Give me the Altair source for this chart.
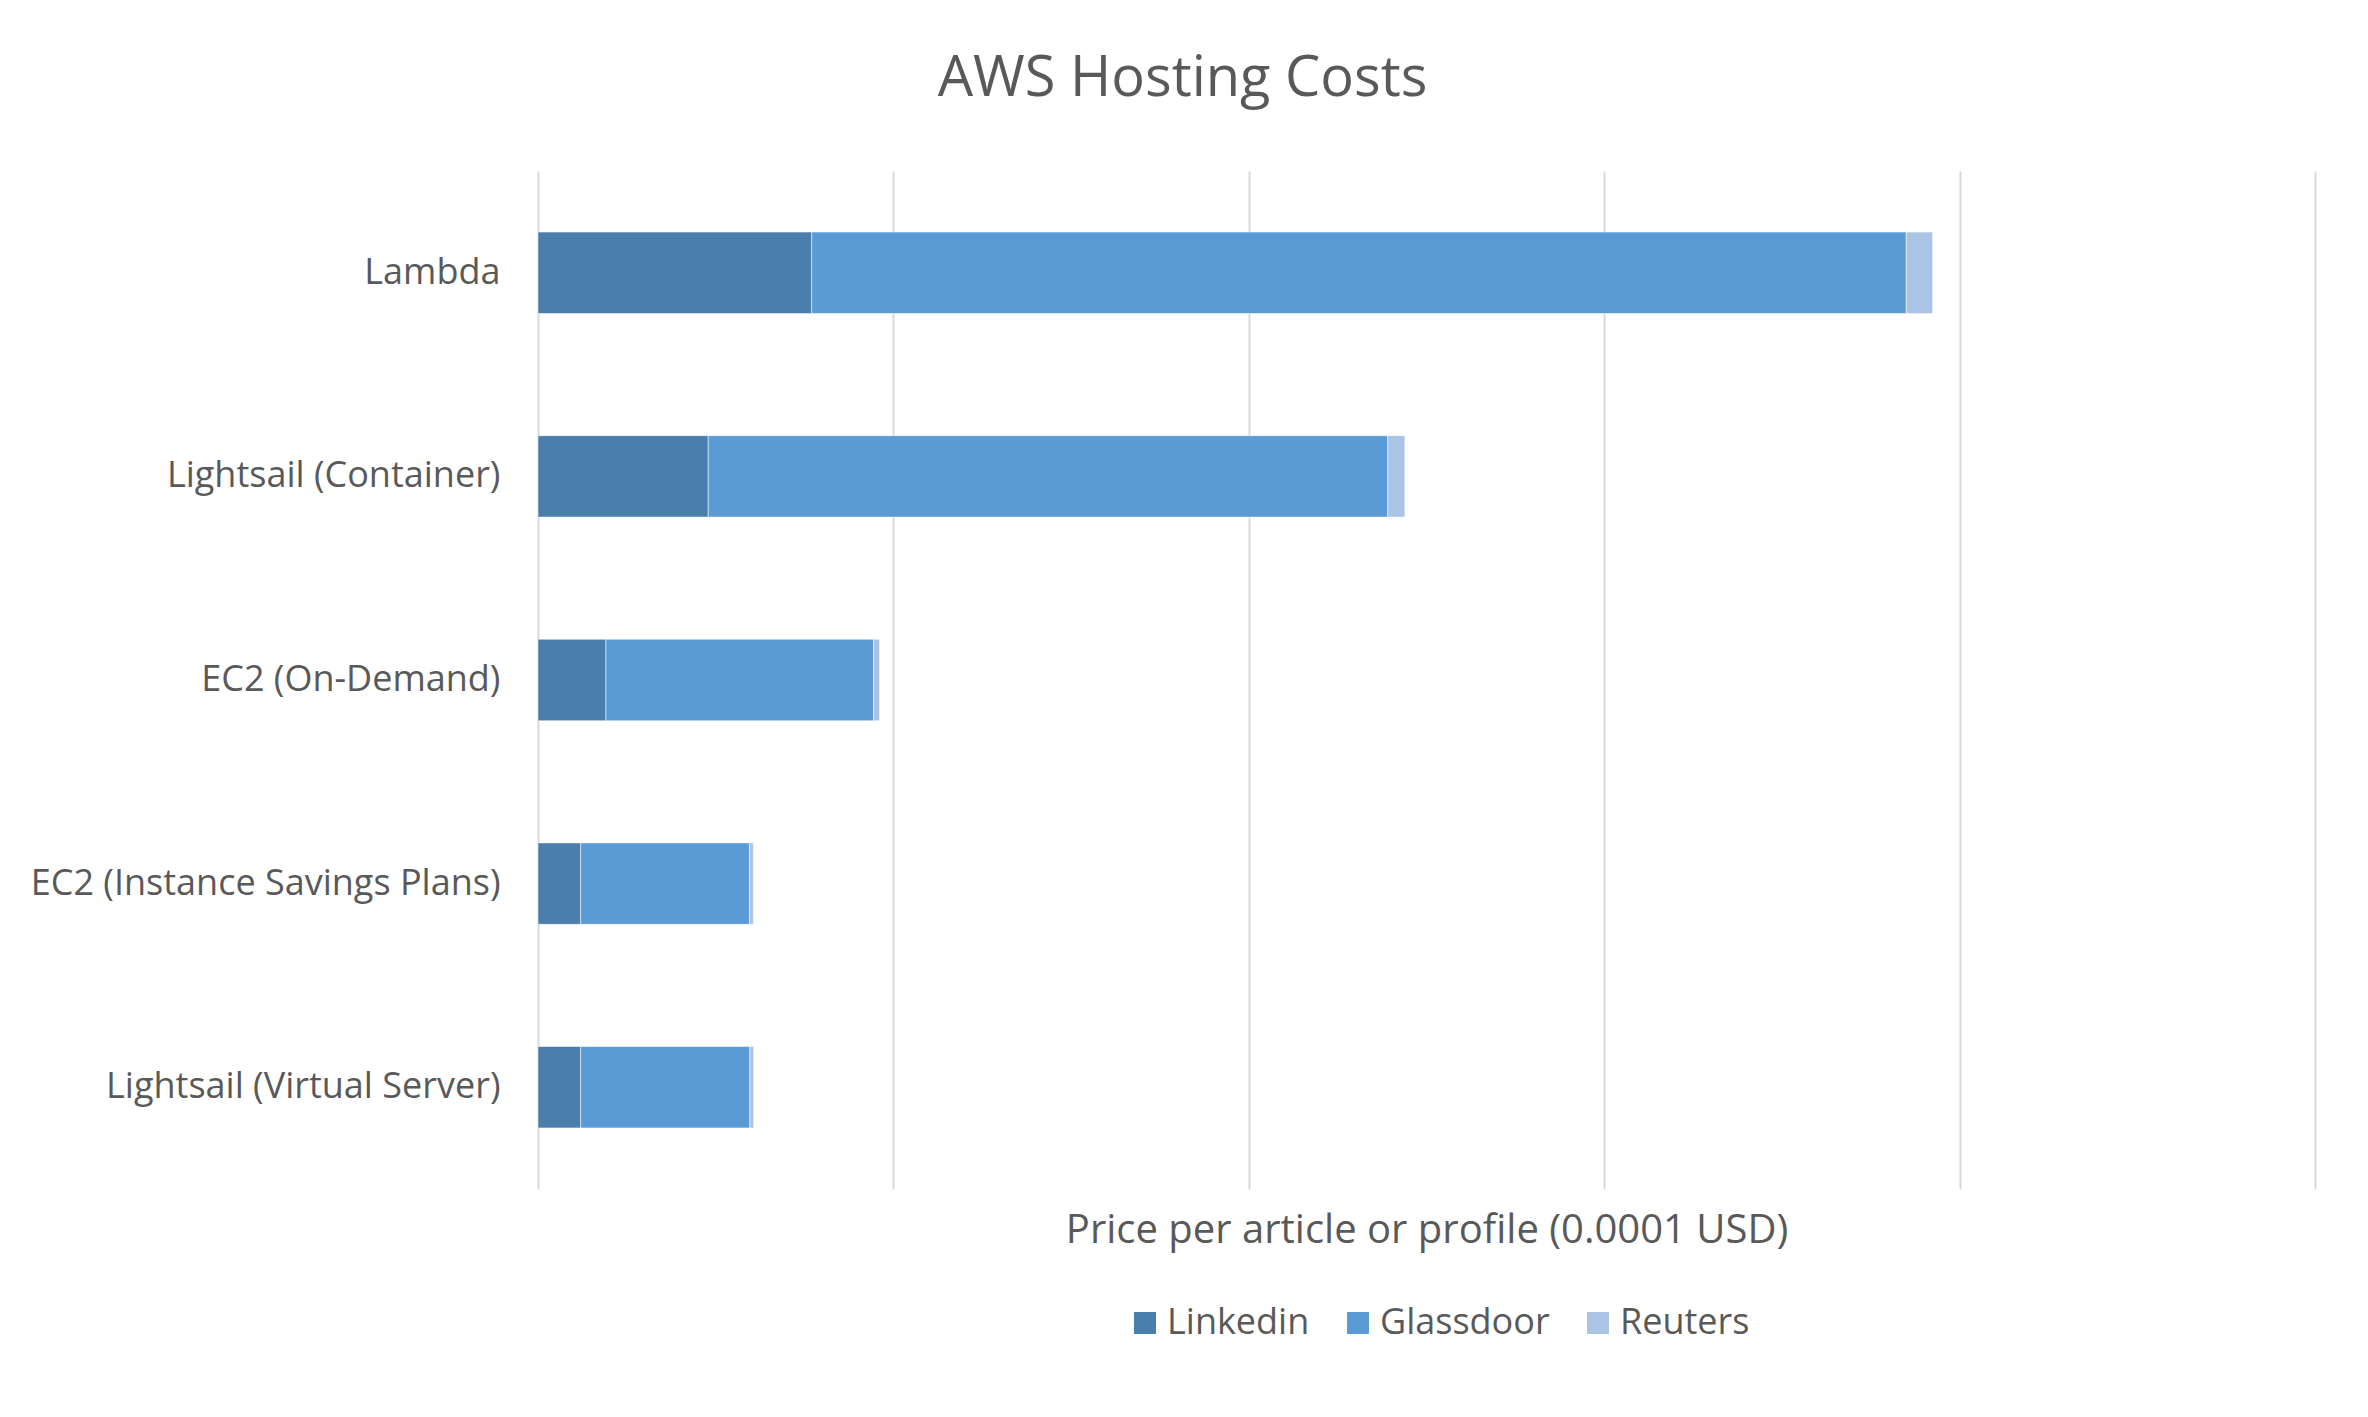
import altair as alt
import pandas as pd

# Values (units of 0.0001 USD; gridline step = 1)
platforms = [
    "Lambda",
    "Lightsail (Container)",
    "EC2 (On-Demand)",
    "EC2 (Instance Savings Plans)",
    "Lightsail (Virtual Server)",
]
sources = ["Linkedin", "Glassdoor", "Reuters"]
linkedin = [0.770, 0.479, 0.191, 0.120, 0.120]
glassdoor = [3.080, 1.912, 0.753, 0.475, 0.476]
reuters = [0.074, 0.048, 0.017, 0.011, 0.011]
colors = ["#4A7EAD", "#5B9BD5", "#A9C4E4"]

rows = []
for i, p in enumerate(platforms):
    for j, (s, vals) in enumerate(zip(sources, [linkedin, glassdoor, reuters])):
        rows.append({"platform": p, "source": s, "order": j, "value": vals[i]})
df = pd.DataFrame(rows)

FONT = "Open Sans"
TXT = "#595959"

chart = (
    alt.Chart(df)
    .mark_bar(stroke="white", strokeWidth=1, strokeOpacity=0.5)
    .encode(
        x=alt.X(
            "value:Q",
            stack="zero",
            scale=alt.Scale(domain=[0, 5], nice=False),
            axis=alt.Axis(
                values=[0, 1, 2, 3, 4, 5],
                labels=False,
                ticks=False,
                domain=False,
                grid=True,
                gridColor="#D9D9D9",
                gridWidth=2,
                title="Price per article or profile (0.0001 USD)",
                titleFont=FONT,
                titleFontSize=40,
                titleFontWeight="normal",
                titleColor=TXT,
                titleBaseline="alphabetic",
                titlePadding=53,
            ),
        ),
        y=alt.Y(
            "platform:N",
            sort=platforms,
            scale=alt.Scale(paddingInner=0.6, paddingOuter=0.3),
            axis=alt.Axis(
                title=None,
                domain=False,
                ticks=False,
                grid=False,
                labelFont=FONT,
                labelFontSize=36,
                labelColor=TXT,
                labelPadding=38,
                labelLimit=1000,
            ),
        ),
        color=alt.Color(
            "source:N",
            sort=sources,
            scale=alt.Scale(domain=sources, range=colors),
            legend=alt.Legend(
                title=None,
                orient="none",
                direction="horizontal",
                legendX=589,
                legendY=1134,
                symbolType="square",
                symbolSize=484,
                symbolStrokeWidth=0,
                labelFont=FONT,
                labelFontSize=36,
                labelColor=TXT,
                labelOffset=4,
                labelLimit=600,
                columnPadding=30,
                padding=0,
            ),
        ),
        order=alt.Order("order:Q", sort="ascending"),
    )
    .properties(
        width=1777,
        height=1018,
        title=alt.TitleParams(
            "AWS Hosting Costs",
            font=FONT,
            fontSize=56,
            fontWeight="normal",
            color=TXT,
            anchor="middle",
            dx=-244,
            baseline="alphabetic",
            offset=19,
        ),
        autosize=alt.AutoSizeParams(type="none"),
        padding={"left": 538, "top": 171, "right": 53, "bottom": 228},
        background="white",
    )
    .configure_view(stroke=None)
)

chart.save("out.html", embed_options={"renderer": "svg", "actions": False})
